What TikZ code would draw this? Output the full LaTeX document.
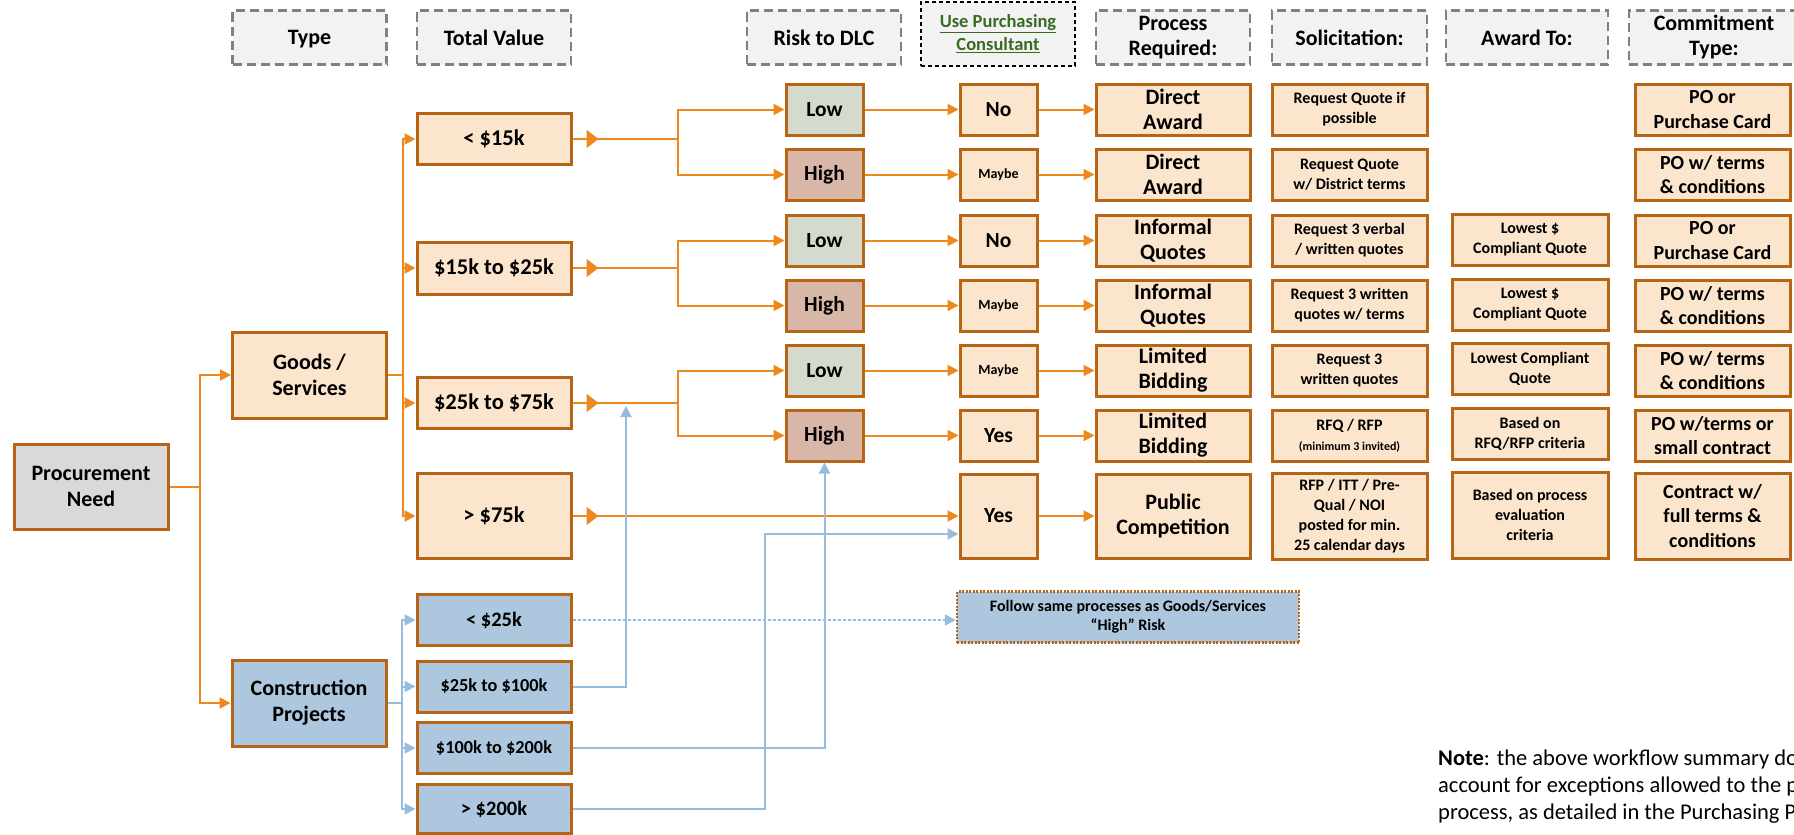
\documentclass[tikz,border=0pt]{standalone}
\usepackage{fontspec}
\setmainfont{Carlito}
\usetikzlibrary{arrows.meta}

\definecolor{brd}{RGB}{183,101,20}
\definecolor{peach}{RGB}{252,229,205}
\definecolor{lowc}{RGB}{212,218,205}
\definecolor{highc}{RGB}{216,183,168}
\definecolor{needc}{RGB}{217,217,217}
\definecolor{bluec}{RGB}{173,200,222}
\definecolor{oline}{RGB}{237,137,28}
\definecolor{bline}{RGB}{150,188,222}
\definecolor{hdrc}{RGB}{242,242,242}
\definecolor{linkc}{RGB}{56,107,34}
\newcommand{\bxfont}[2]{\fontsize{#1}{#2}\selectfont\bfseries}

\begin{document}
\begin{tikzpicture}[x=1pt,y=-1pt,
  hdr/.style={draw=gray,dash pattern=on 9pt off 5pt,line width=2.5pt,fill=hdrc,
    minimum width=154pt,minimum height=54pt,align=center,inner sep=0pt,font=\bxfont{22}{25}},
  bx/.style={draw=brd,line width=3pt,fill=peach,align=center,inner sep=0pt,
    minimum width=154pt,minimum height=51pt},
  val/.style={bx,font=\bxfont{22.5}{26}},
  cval/.style={bx,fill=bluec,font=\bxfont{18.3}{22}},
  rsk/.style={bx,minimum width=77pt,font=\bxfont{21.5}{25}},
  proc/.style={bx,font=\bxfont{22}{25}},
  sol/.style={bx,minimum width=155pt,font=\bxfont{16}{20}},
  com/.style={bx,minimum width=155pt,font=\bxfont{20}{24.5}},
  oln/.style={draw=oline,line width=2pt},
  bln/.style={draw=bline,line width=2pt},
  arr/.style={-{Triangle[length=11pt,width=11pt]}},
  bigarr/.style={-{Triangle[length=12pt,width=18pt]}}]
\useasboundingbox (0,0) rectangle (1794,835);
\clip (0,0) rectangle (1794,835);

% column headers
\node[hdr,text depth=0pt] (hType) at (309.5,37.5) {Type};
\node[hdr] (hVal) at (494,37.5) {Total Value};
\node[hdr] (hRisk) at (824,37.5) {Risk to DLC};
\node[hdr,draw=black,dash pattern=on 4pt off 3pt,line width=1.6pt,minimum height=64pt,
  font=\bxfont{18.5}{23},text=linkc] (hCons) at (998,34) {\underline{Use Purchasing}\\\underline{Consultant}};
\node[hdr] (hProc) at (1173,37.5) {Process\\Required:};
\node[hdr,minimum width=155pt] (hSol) at (1349.5,37.5) {Solicitation:};
\node[hdr,minimum width=162pt] (hAward) at (1527,37.5) {Award To:};
\node[hdr,minimum width=170pt] (hCom) at (1714,37.5) {Commitment\\Type:};

% type
\node[bx,fill=needc,minimum height=85pt,font=\bxfont{22}{26}] (need) at (91,486.5) {Procurement\\Need};
\node[bx,minimum height=86pt,font=\bxfont{22}{26}] (goods) at (309.5,375) {Goods /\\Services};
\node[bx,fill=bluec,minimum height=86pt,font=\bxfont{22}{26}] (constr) at (309,703) {Construction\\Projects};

% total value
\node[val] (val1) at (494,139) {< \$15k};
\node[val,minimum height=52pt] (val2) at (494,268) {\$15k to \$25k};
\node[val] (val3) at (494,403) {\$25k to \$75k};
\node[val,minimum height=85pt] (val4) at (494,516) {> \$75k};
\node[cval,font=\bxfont{20.5}{24}] (cv1) at (494,620) {< \$25k};
\node[cval] (cv2) at (494,686.5) {\$25k to \$100k};
\node[cval] (cv3) at (494,748) {\$100k to \$200k};
\node[cval,font=\bxfont{20.5}{24},minimum height=49pt] (cv4) at (494,809) {> \$200k};

% risk
\node[rsk,fill=lowc] (rk1) at (824.5,109.5) {Low};
\node[rsk,fill=highc] (rk2) at (824.5,174.5) {High};
\node[rsk,fill=lowc] (rk3) at (824.5,240.5) {Low};
\node[rsk,fill=highc] (rk4) at (824.5,305.5) {High};
\node[rsk,fill=lowc] (rk5) at (824.5,370.5) {Low};
\node[rsk,fill=highc] (rk6) at (824.5,435.5) {High};

% consultant
\node[rsk] (cs1) at (998.5,109.5) {No};
\node[rsk,font=\bxfont{14}{17}] (cs2) at (998.5,174.5) {Maybe};
\node[rsk] (cs3) at (998.5,240.5) {No};
\node[rsk,font=\bxfont{14}{17}] (cs4) at (998.5,305.5) {Maybe};
\node[rsk,font=\bxfont{14}{17}] (cs5) at (998.5,370.5) {Maybe};
\node[rsk] (cs6) at (998.5,435.5) {Yes};
\node[rsk,minimum height=84pt] (cs7) at (998.5,516) {Yes};

% process
\node[proc] (pr1) at (1173,109.5) {Direct\\Award};
\node[proc] (pr2) at (1173,174.5) {Direct\\Award};
\node[proc] (pr3) at (1173,240.5) {Informal\\Quotes};
\node[proc] (pr4) at (1173,305.5) {Informal\\Quotes};
\node[proc] (pr5) at (1173,370.5) {Limited\\Bidding};
\node[proc] (pr6) at (1173,435.5) {Limited\\Bidding};
\node[proc,minimum height=84pt] (pr7) at (1173,516) {Public\\Competition};

% solicitation
\node[sol] (sol1) at (1349.5,109.5) {Request Quote if\\possible};
\node[sol] (sol2) at (1349.5,174.5) {Request Quote\\w/ District terms};
\node[sol] (sol3) at (1349.5,240.5) {Request 3 verbal\\/ written quotes};
\node[sol] (sol4) at (1349.5,305.5) {Request 3 written\\quotes w/ terms};
\node[sol] (sol5) at (1349.5,370.5) {Request 3\\written quotes};
\node[sol] (sol6) at (1349.5,435.5) {RFQ / RFP\\{\bxfont{12}{14}(minimum 3 invited)}};
\node[sol,minimum height=86pt] (sol7) at (1349.5,516) {RFP / ITT / Pre-\\Qual / NOI\\posted for min.\\25 calendar days};

% award
\node[sol,minimum width=156pt] (aw3) at (1530,239.5) {Lowest \$\\Compliant Quote};
\node[sol,minimum width=156pt] (aw4) at (1530,304.5) {Lowest \$\\Compliant Quote};
\node[sol,minimum width=156pt] (aw5) at (1530,368.5) {Lowest Compliant\\Quote};
\node[sol,minimum width=156pt] (aw6) at (1530,433.5) {Based on\\RFQ/RFP criteria};
\node[sol,minimum width=156pt,minimum height=86pt] (aw7) at (1530,515) {Based on process\\evaluation\\criteria};

% commitment
\node[com] (cm1) at (1712.5,109.5) {PO or\\Purchase Card};
\node[com] (cm2) at (1712.5,174.5) {PO w/ terms\\\& conditions};
\node[com] (cm3) at (1712.5,240.5) {PO or\\Purchase Card};
\node[com] (cm4) at (1712.5,305.5) {PO w/ terms\\\& conditions};
\node[com] (cm5) at (1712.5,370.5) {PO w/ terms\\\& conditions};
\node[com] (cm6) at (1712.5,435.5) {PO w/terms or\\small contract};
\node[com,minimum height=86pt] (cm7) at (1712.5,516) {Contract w/\\full terms \&\\conditions};

\node[bx,fill=bluec,dash pattern=on 2pt off 1.5pt,line width=2.5pt,minimum width=342pt,
  font=\bxfont{16}{19}] (follow) at (1128,617) {Follow same processes as Goods/Services\\“High” Risk};
\node[anchor=north west,inner sep=0pt,align=left,font=\fontsize{22.5}{27}\selectfont] (note) at (1438,750)
  {\textbf{Note}: the above workflow summary does not\\account for exceptions allowed to the procurement\\process, as detailed in the Purchasing Policy.};

% connectors
\coordinate (j0) at (200,486.5);
\coordinate (j1) at (403,375);
\coordinate (j2) at (402,703);
\coordinate (sp1) at (678,139);
\coordinate (sp2) at (678,268);
\coordinate (sp3) at (678,403);
\coordinate (up3) at (626,406);
\coordinate (b4) at (765,534);

\draw[oln] (need) -- (j0);
\draw[oln,arr] (j0) |- (goods);
\draw[oln,arr] (j0) |- (constr);
\draw[oln] (goods) -- (j1);
\foreach \n in {val1,val2,val3,val4} \draw[oln,arr] (j1) |- (\n);
\foreach \n/\s in {val1/sp1,val2/sp2,val3/sp3} {\draw[oln] (\n) -- (\s); \draw[oln,bigarr] (\n.east) -- ++(26,0);}
\draw[oln,arr] (val4) -- (cs7);
\draw[oln,bigarr] (val4.east) -- ++(26,0);
\foreach \s/\a/\b in {sp1/rk1/rk2,sp2/rk3/rk4,sp3/rk5/rk6} {\draw[oln,arr] (\s) |- (\a); \draw[oln,arr] (\s) |- (\b);}
\foreach \i in {1,...,6} \draw[oln,arr] (rk\i) -- (cs\i);
\foreach \i in {1,...,7} \draw[oln,arr] (cs\i) -- (pr\i);

\draw[bln] (constr) -- (j2);
\foreach \n in {cv1,cv2,cv3,cv4} \draw[bln,arr] (j2) |- (\n);
\draw[bln,arr,dash pattern=on 3pt off 2pt] (cv1.east) -- (cv1.east -| follow.west);
\draw[bln,arr] (cv2) -| (up3);
\draw[bln,arr] (cv3) -| (rk6);
\draw[bln,arr] (cv4) -| (b4) -- (b4 -| cs7.west);
\end{tikzpicture}
\end{document}
